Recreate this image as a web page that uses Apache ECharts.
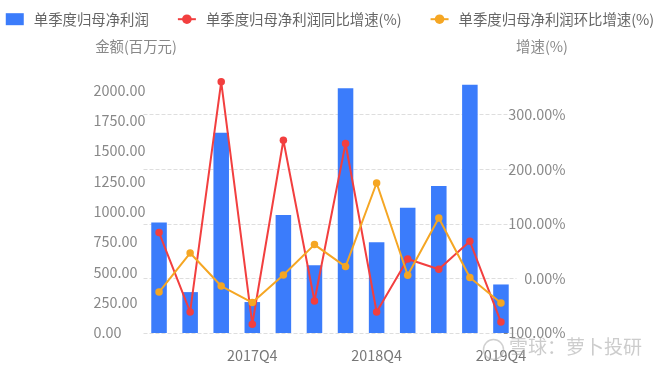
<!DOCTYPE html>
<html>
<head>
<meta charset="utf-8">
<script src="https://cdn.jsdelivr.net/npm/echarts@6/dist/echarts.min.js"></script>
<style>
html,body{margin:0;padding:0;background:#fff;}
#chart{width:660px;height:368px;}
</style>
</head>
<body>
<div id="chart"></div>
<script>
const categories = ['2017Q1','2017Q2','2017Q3','2017Q4','2018Q1','2018Q2','2018Q3','2018Q4','2019Q1','2019Q2','2019Q3','2019Q4'];
const profit = [910, 337, 1650, 255, 972, 558, 2018, 748, 1032, 1211, 2046, 400];
const yoyGrowth = [84, -61.5, 360, -84, 253, -41.4, 247, -61.5, 35.5, 16.7, 68, -80];
const qoqGrowth = [-25, 46.5, -14, -44.3, 6.2, 61.9, 21.6, 174.7, 5.7, 110.6, 1.5, -45];
const seriesNames = ['单季度归母净利润', '单季度归母净利润同比增速(%)', '单季度归母净利润环比增速(%)'];
const shownLabels = ['2017Q4', '2018Q4', '2019Q4'];

const FONT = '"Noto Sans CJK SC", "Noto Sans", sans-serif';
const FS = 14.4;
const chart = echarts.init(document.getElementById('chart'), null, {renderer: 'canvas'});
chart.setOption({
  animation: false,
  textStyle: {fontFamily: FONT},
  legend: {
    top: 7,
    left: 'center',
    itemWidth: 18,
    itemHeight: 12,
    itemGap: 28,
    textStyle: {fontSize: FS, color: '#666', fontFamily: FONT, padding: [0, 0, 0, 5]},
    data: [{name: seriesNames[0], icon: 'rect'}, seriesNames[1], seriesNames[2]]
  },
  grid: {left: 143.5, right: 143.5, top: 60, bottom: 35},
  xAxis: {
    type: 'category',
    data: categories,
    axisLine: {show: false},
    axisTick: {show: false},
    axisLabel: {
      interval: function (i, v) { return shownLabels.indexOf(v) >= 0; },
      fontSize: FS, color: '#777', margin: 15, fontFamily: FONT
    }
  },
  yAxis: [
    {
      type: 'value',
      name: '金额(百万元)',
      nameGap: 6,
      nameTextStyle: {fontSize: FS, color: '#888', padding: [0, 15, 0, 0], fontFamily: FONT},
      min: 0, max: 2250, interval: 250,
      axisLine: {show: false},
      axisTick: {show: false},
      splitLine: {show: false},
      axisLabel: {
        showMaxLabel: false,
        align: 'left', margin: 50,
        fontSize: FS, color: '#888', fontFamily: FONT,
        formatter: function (v) { return v.toFixed(2); }
      }
    },
    {
      type: 'value',
      name: '增速(%)',
      nameGap: 6,
      nameTextStyle: {fontSize: FS, color: '#888', padding: [0, 0, 0, 51], fontFamily: FONT},
      min: -100, max: 400, interval: 100,
      axisLine: {show: false},
      axisTick: {show: false},
      splitLine: {show: true, lineStyle: {type: 'dashed', color: ['#dedede','#dedede','#dedede','#dedede','#dedede','rgba(0,0,0,0)']}},
      axisLabel: {
        showMaxLabel: false,
        align: 'right', margin: 49,
        fontSize: FS, color: '#888', fontFamily: FONT,
        formatter: function (v) { return v.toFixed(2) + '%'; }
      }
    }
  ],
  series: [
    {
      name: seriesNames[0],
      type: 'bar',
      yAxisIndex: 0,
      barWidth: '50%',
      itemStyle: {color: '#3b7cfb'},
      data: profit
    },
    {
      name: seriesNames[1],
      type: 'line',
      yAxisIndex: 1,
      symbol: 'circle',
      symbolSize: 7.5,
      lineStyle: {width: 2, color: '#f23f3f'},
      itemStyle: {color: '#f23f3f'},
      data: yoyGrowth
    },
    {
      name: seriesNames[2],
      type: 'line',
      yAxisIndex: 1,
      symbol: 'circle',
      symbolSize: 7.5,
      lineStyle: {width: 2, color: '#f5a623'},
      itemStyle: {color: '#f5a623'},
      data: qoqGrowth
    }
  ],
  graphic: [
    {
      type: 'circle', left: 481, top: 337, shape: {r: 10},
      style: {fill: 'none', stroke: 'rgba(170,170,170,0.55)', lineWidth: 1.5}, z: 100
    },
    {
      type: 'text', left: 509, top: 337,
      style: {text: '雪球：萝卜投研', fontSize: 19, fontFamily: FONT, fill: 'rgba(170,170,170,0.6)'}, z: 100
    }
  ]
});
</script>
</body>
</html>
